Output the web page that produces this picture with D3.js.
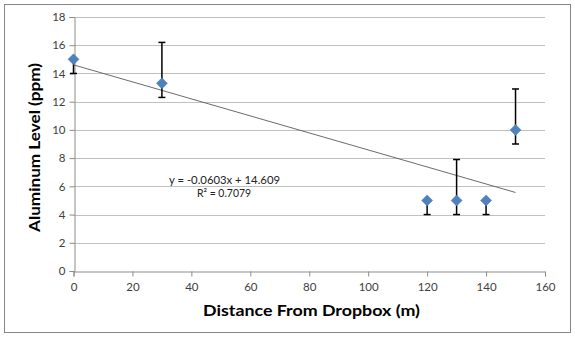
<!DOCTYPE html>
<html><head><meta charset="utf-8">
<script src="https://cdn.jsdelivr.net/npm/d3@7"></script>
<style>body{margin:0;background:#fff;}svg{display:block;font-family:Lato,"Open Sans",sans-serif;}</style>
</head><body>
<svg id="c" width="575" height="337"></svg>
<script>
const distances = [0, 30, 120, 130, 140, 150];
const aluminum = [15, 13.3, 5, 5, 5, 10];
const errUpper = [0, 2.9, 0, 2.9, 0, 2.9];
const errLower = [1, 1, 1, 1, 1, 1];
const xTicks = [0, 20, 40, 60, 80, 100, 120, 140, 160];
const yTicks = [0, 2, 4, 6, 8, 10, 12, 14, 16, 18];
const trendSlope = -0.0603, trendIntercept = 14.609, r2 = 0.7079;

const svg = d3.select("#c");
svg.append("rect").attr("x",4.5).attr("y",4.5).attr("width",566).attr("height",328)
  .attr("fill","#fff").attr("stroke","#868686").attr("stroke-width",1);

const x = d3.scaleLinear().domain([0,160]).range([73.5,545]);
const y = d3.scaleLinear().domain([0,18]).range([271,17]);

// gridlines
svg.append("g").selectAll("line").data(yTicks.filter(d=>d>0)).join("line")
  .attr("x1",x(0)).attr("x2",x(160)).attr("y1",d=>Math.round(y(d))+0.5).attr("y2",d=>Math.round(y(d))+0.5)
  .attr("stroke","#c0c0c0").attr("stroke-width",1);

const xAxis = svg.append("g").attr("transform",`translate(0,${Math.round(y(0))+0.5})`)
  .call(d3.axisBottom(x).tickValues(xTicks).tickSize(5).tickPadding(6));
const yAxis = svg.append("g").attr("transform",`translate(${Math.round(x(0))+0.5},0)`)
  .call(d3.axisLeft(y).tickValues(yTicks).tickSize(5).tickPadding(4));
[xAxis,yAxis].forEach(a=>{
  a.select(".domain").attr("stroke","#8c8c8c");
  a.selectAll(".tick line").attr("stroke","#8c8c8c");
  a.selectAll("text").attr("fill","#404040").style("font-size","11.5px").style("font-family","Lato,sans-serif");
});

// trendline
svg.append("line").attr("x1",x(0)).attr("y1",y(trendIntercept))
  .attr("x2",x(150)).attr("y2",y(trendIntercept+trendSlope*150))
  .attr("stroke","#5a5a5a").attr("stroke-width",0.9);

// error bars
const pts = distances.map((d,i)=>({x:d,y:aluminum[i],up:errUpper[i],lo:errLower[i]}));
const eb = svg.append("g").attr("stroke","#000").attr("stroke-width",1.5);
pts.forEach(p=>{
  const cx = x(p.x);
  eb.append("line").attr("x1",cx).attr("x2",cx).attr("y1",y(p.y+p.up)).attr("y2",y(p.y-p.lo));
  if(p.up>0) eb.append("line").attr("x1",cx-3.5).attr("x2",cx+3.5).attr("y1",y(p.y+p.up)).attr("y2",y(p.y+p.up));
  if(p.lo>0) eb.append("line").attr("x1",cx-3.5).attr("x2",cx+3.5).attr("y1",y(p.y-p.lo)).attr("y2",y(p.y-p.lo));
});

// markers
svg.append("g").selectAll("path").data(pts).join("path")
  .attr("d","M0,-5.5L5.5,0L0,5.5L-5.5,0Z")
  .attr("transform",d=>`translate(${x(d.x)},${y(d.y)})`)
  .attr("fill","#4f81bd").attr("stroke","#4a7ab5").attr("stroke-width",0.5);

// equation
svg.append("text").attr("x",169).attr("y",184).attr("textLength",111).attr("lengthAdjust","spacingAndGlyphs")
  .attr("fill","#222").style("font-size","11px").text(`y = ${trendSlope}x + ${trendIntercept}`);
svg.append("text").attr("x",197).attr("y",197).attr("textLength",54).attr("lengthAdjust","spacingAndGlyphs")
  .attr("fill","#222").style("font-size","11px").text(`R² = ${r2}`);

// axis titles
svg.append("text").attr("x",203).attr("y",316).attr("textLength",217).attr("lengthAdjust","spacingAndGlyphs")
  .attr("font-weight","bold").attr("fill","#000").style("font-size","15px").text("Distance From Dropbox (m)");
svg.append("text").attr("transform","translate(40,232) rotate(-90)").attr("textLength",169).attr("lengthAdjust","spacingAndGlyphs")
  .attr("font-weight","bold").attr("fill","#000").style("font-size","15px").text("Aluminum Level (ppm)");
</script>
</body></html>
